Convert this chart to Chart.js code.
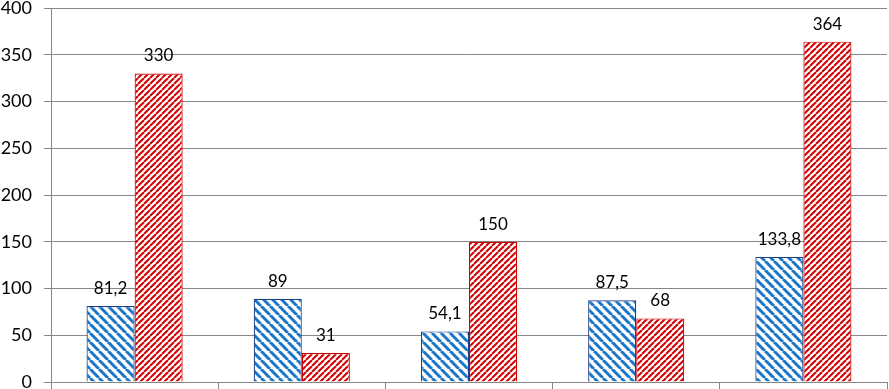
<!DOCTYPE html>
<html>
<head>
<meta charset="utf-8">
<script src="https://cdn.jsdelivr.net/npm/chart.js@4.4.1/dist/chart.umd.min.js"></script>
<style>
  html, body { margin: 0; padding: 0; background: #fff; }
  #wrap { width: 889px; height: 389px; }
</style>
</head>
<body>
<div id="wrap"><canvas id="grafico"></canvas></div>
<script>
const categorias = ["1", "2", "3", "4", "5"];
const serie_azul = [81.2, 89, 54.1, 87.5, 133.8];
const serie_roja = [330, 31, 150, 68, 364];
const ticks_y = [0, 50, 100, 150, 200, 250, 300, 350, 400];

// patron de rayas diagonales
function rayas(color, paso, grosor, invertida) {
  const c = document.createElement("canvas");
  c.width = paso;
  c.height = paso;
  const g = c.getContext("2d");
  g.fillStyle = "#ffffff";
  g.fillRect(0, 0, paso, paso);
  g.strokeStyle = color;
  g.lineWidth = grosor;
  for (let k = -1; k <= 1; k++) {
    g.beginPath();
    if (invertida) {
      g.moveTo(k * paso, paso);
      g.lineTo(k * paso + paso, 0);
    } else {
      g.moveTo(k * paso, 0);
      g.lineTo(k * paso + paso, paso);
    }
    g.stroke();
  }
  return g.createPattern(c, "repeat");
}

const etiquetas = {
  id: "etiquetas",
  afterDatasetsDraw: (chart) => {
    const ctx = chart.ctx;
    ctx.save();
    ctx.font = "17px Lato";
    ctx.fillStyle = "#000";
    ctx.textAlign = "center";
    ctx.textBaseline = "bottom";
    chart.data.datasets.forEach((ds, i) => {
      chart.getDatasetMeta(i).data.forEach((bar, j) => {
        const txt = String(ds.data[j]).replace(".", ",");
        ctx.fillText(txt, bar.x, bar.y - 9);
      });
    });
    ctx.restore();
  },
};

const sinRelleno = (s) => {
  s.paddingTop = 0;
  s.paddingBottom = 0;
  s.paddingLeft = 0;
  s.paddingRight = 0;
};

const ctx = document.getElementById("grafico").getContext("2d");
new Chart(ctx, {
  type: "bar",
  data: {
    labels: categorias,
    datasets: [
      {
        label: "A",
        data: serie_azul,
        backgroundColor: rayas("#1a76c8", 9, 3, false),
        borderColor: "#1f3f86",
        borderWidth: 1.2,
      },
      {
        label: "B",
        data: serie_roja,
        backgroundColor: rayas("#d40000", 6, 2, true),
        borderColor: "#c80000",
        borderWidth: 1.2,
      },
    ],
  },
  options: {
    responsive: true,
    maintainAspectRatio: false,
    animation: false,
    layout: { padding: { top: 8, right: 2, left: 0, bottom: 0 } },
    datasets: {
      bar: { categoryPercentage: 0.575, barPercentage: 1 },
    },
    plugins: {
      legend: { display: false },
      tooltip: { enabled: false },
    },
    scales: {
      x: {
        grid: {
          offset: true,
          drawOnChartArea: false,
          color: "#868686",
          tickLength: 7,
        },
        border: { color: "#868686" },
        ticks: { display: false },
        afterFit: (s) => { s.height = 7; sinRelleno(s); },
      },
      y: {
        min: 0,
        max: 400,
        afterBuildTicks: (s) => { s.ticks = ticks_y.map((v) => ({ value: v })); },
        grid: { color: "#868686", tickLength: 7 },
        border: { color: "#868686" },
        ticks: {
          color: "#000",
          font: { family: "Lato", size: 18 },
          padding: 12,
        },
        afterFit: (s) => { s.width = 51; sinRelleno(s); },
      },
    },
  },
  plugins: [etiquetas],
});
</script>
</body>
</html>
